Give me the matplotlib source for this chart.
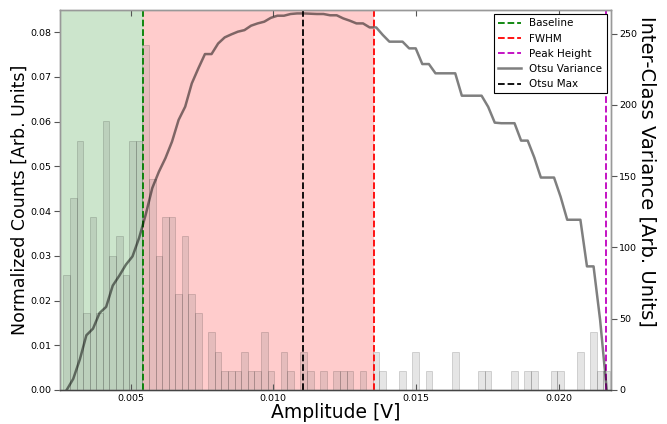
import numpy as np
import matplotlib
matplotlib.use('Agg')
import matplotlib.pyplot as plt

# amplitude histogram (counts per bin) and bin range [V]
bin_lo = 0.002642
bin_hi = 0.021798
counts = [6, 10, 13, 4, 9, 4, 14, 7, 8, 6, 13, 13,
          18, 11, 7, 9, 9, 5, 8, 5, 4, 0, 3, 2, 1, 1, 1, 2, 1, 1,
          3, 1, 0, 2, 1, 0, 2, 1, 0, 1, 0, 1, 1, 1, 0, 1, 0,
          2, 1, 0, 0, 1, 0, 2, 0, 1, 0, 0, 0, 2, 0, 0, 0, 1, 1, 0,
          0, 0, 1, 0, 1, 1, 0, 0, 1, 1, 0, 0, 2, 0, 3, 1, 1]

# inter-class (Otsu) variance evaluated at each bin
otsu_var = [0, 7.8, 21.4, 38.4, 43.0, 54.0, 58.3, 73.2, 80.2, 87.9,
            93.7, 106.6, 122.9, 141.6, 153.0, 162.6, 174.2, 189.4, 198.7, 215.0,
            225.6, 235.6, 235.6, 243.0, 247.3, 249.4, 251.3, 252.4, 255.5, 257.1,
            258.3, 261.0, 262.5, 262.5, 263.7, 264.1, 264.1, 263.9, 263.7, 263.7,
            262.8, 262.8, 260.6, 259.0, 257.1, 257.1, 254.3, 254.3, 249.0, 244.3,
            244.3, 244.3, 239.6, 239.6, 228.6, 228.6, 222.1, 222.1, 222.1, 222.1,
            206.4, 206.4, 206.4, 206.4, 198.6, 187.5, 187.1, 187.1, 187.1, 174.9,
            174.9, 163.1, 149.0, 149.0, 149.0, 135.5, 119.4, 119.4, 119.4, 86.7,
            86.7, 49.0, 0]

baseline = 0.005424
fwhm = 0.013539
peak_height = 0.021673
otsu_max = 0.011051

edges = np.linspace(bin_lo, bin_hi, len(counts) + 1)
width = edges[1] - edges[0]
centers = edges[:-1] + width / 2
heights = np.array(counts) / np.sum(counts)

fig = plt.figure(figsize=(6.67, 4.24), dpi=100)
ax = fig.add_axes([0.09, 0.0802, 0.8256, 0.8962])
ax2 = ax.twinx()

xmin, xmax = 0.002526, 0.021822
ax.axvspan(xmin, baseline, color='g', alpha=0.2, lw=0)
ax.axvspan(baseline, fwhm, color='r', alpha=0.2, lw=0)
ax.bar(edges[:-1], heights, width=width, align='edge', color='gray',
       alpha=0.2, edgecolor='k', linewidth=0.5)

l1 = ax.axvline(baseline, color='g', ls='--', lw=1.3, label='Baseline')
l2 = ax.axvline(fwhm, color='r', ls='--', lw=1.3, label='FWHM')
l3 = ax.axvline(peak_height, color='m', ls='--', lw=1.3, label='Peak Height')

l4, = ax2.plot(centers, otsu_var, color='k', alpha=0.5, lw=1.8, label='Otsu Variance')
l5 = ax2.axvline(otsu_max, color='k', ls='--', lw=1.3, label='Otsu Max')

ax.set_xlim(xmin, xmax)
ax.set_ylim(0, 1.1 * heights.max())
ax2.set_ylim(0, 266.5)

ax.set_xticks([0.005, 0.010, 0.015, 0.020])
ax.set_xticklabels(['0.005', '0.010', '0.015', '0.020'])
ax.set_yticks(np.arange(0, 0.081, 0.01))
ax.set_yticklabels(['%.2f' % v for v in np.arange(0, 0.081, 0.01)])
ax2.set_yticks([0, 50, 100, 150, 200, 250])

ax.tick_params(axis='x', direction='in', top=True, length=4, labelsize=6.8,
               color='#555555', pad=3)
ax.tick_params(axis='y', direction='out', length=4, labelsize=6.8,
               color='#555555', pad=2)
ax2.tick_params(axis='y', direction='out', length=4, labelsize=6.8,
                color='#555555', pad=2)
ax2.tick_params(axis='x', top=False, bottom=False)

for a in (ax, ax2):
    for s in a.spines.values():
        s.set_color('#999999')
        s.set_linewidth(1.0)
ax2.spines['bottom'].set_color('#444444')

ax.set_xlabel('Amplitude [V]', fontsize=13.5, labelpad=0)
ax.set_ylabel('Normalized Counts [Arb. Units]', fontsize=12.5, labelpad=1)
ax2.set_ylabel('Inter-Class Variance [Arb. Units]', fontsize=14, rotation=270)
ax2.yaxis.set_label_coords(1.084, 0.575)

leg = ax2.legend(handles=[l1, l2, l3, l4, l5], loc='upper right', fontsize=7.5,
                 fancybox=False, framealpha=1, edgecolor='k',
                 borderaxespad=0.4, handlelength=2.2)
leg.get_frame().set_linewidth(0.8)

fig.savefig('out.png', dpi=100)
